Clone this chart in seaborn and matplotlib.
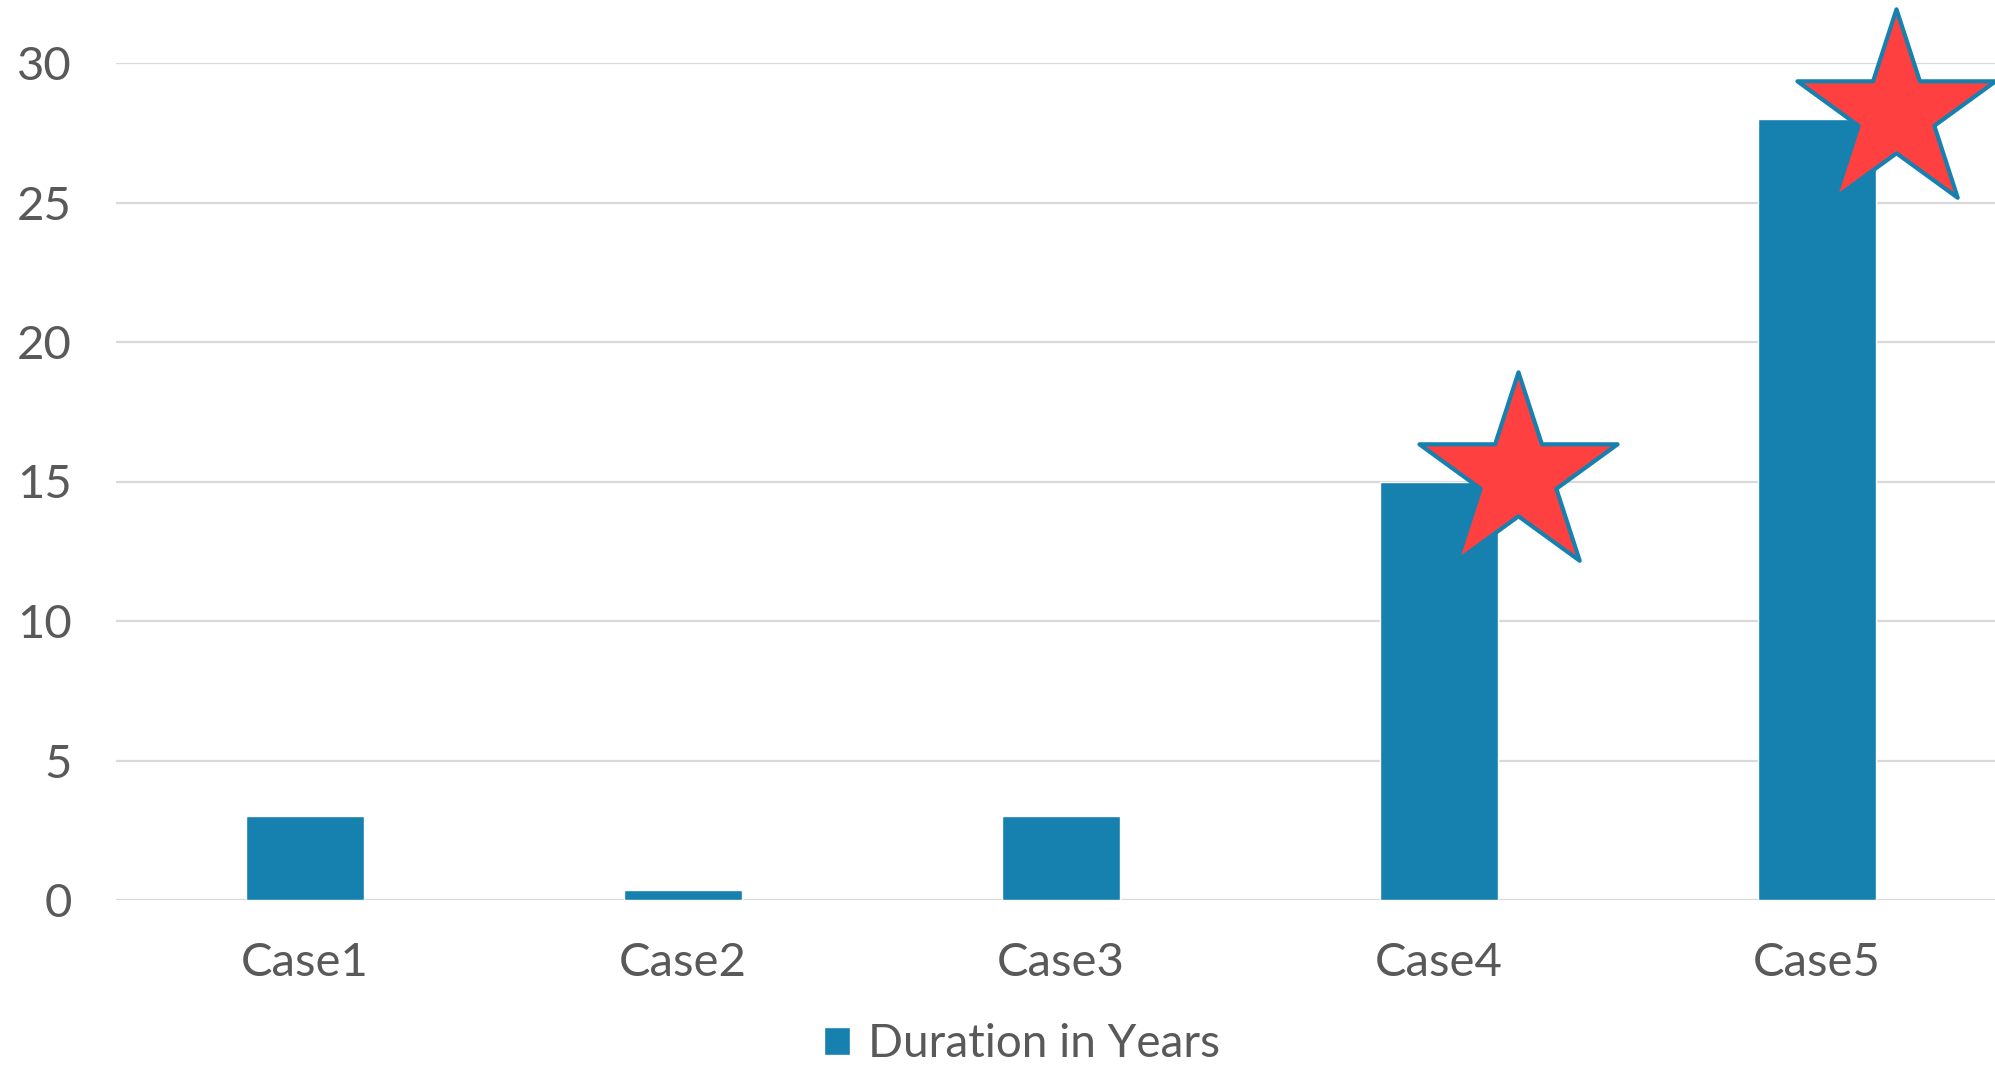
import numpy as np
import seaborn as sns
import matplotlib.pyplot as plt

# data
cases = ['Case1', 'Case2', 'Case3', 'Case4', 'Case5']
duration = [3, 0.35, 3, 15, 28]
starred = ['Case4', 'Case5']
series_label = 'Duration in Years'
y_ticks = [0, 5, 10, 15, 20, 25, 30]

BAR = '#1681AE'
STAR = '#FF4040'
GREY = '#595959'
GRID = '#D9D9D9'

sns.set_theme(style='white')
plt.rcParams['font.family'] = ['Lato', 'DejaVu Sans']

fig = plt.figure(figsize=(19.95, 10.67), dpi=100)
ax = fig.add_axes([116 / 1995, 167 / 1067, 1890 / 1995, 837 / 1067])

sns.barplot(x=cases, y=duration, color=BAR, saturation=1, width=0.31,
            label=series_label, ax=ax, zorder=2)

# stars sit a little right of the bar top
idx = [cases.index(c) for c in starred]
star_x = np.array(idx) + 0.21
star_y = [duration[i] + 0.2 for i in idx]
ax.scatter(star_x, star_y, marker='*', s=150 ** 2, color=STAR,
           edgecolor=BAR, linewidth=3, zorder=5, clip_on=False)

ax.set_ylim(0, 30)
ax.set_xlim(-0.5, 4.5)
ax.set_yticks(y_ticks)
ax.yaxis.grid(True, color=GRID, linewidth=1.6, zorder=0)
ax.set_axisbelow(True)
for s in ax.spines.values():
    s.set_visible(False)
ax.tick_params(axis='both', length=0, labelsize=34, colors=GREY)
ax.tick_params(axis='y', pad=32)
ax.tick_params(axis='x', pad=30)
ax.set_xlabel('')
ax.set_ylabel('')

leg = ax.legend(loc='center', bbox_to_anchor=(1022 / 1995, 1 - 1044 / 1067),
                bbox_transform=fig.transFigure, frameon=False, fontsize=33,
                handlelength=0.58, handleheight=0.58, handletextpad=0.4,
                borderpad=0)
for t in leg.get_texts():
    t.set_color(GREY)

plt.savefig('out.png', dpi=100)
